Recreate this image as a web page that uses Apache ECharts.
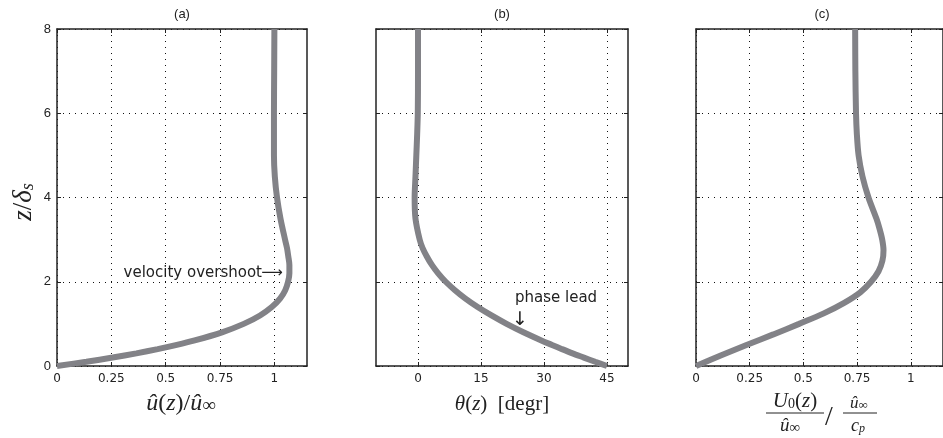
<!DOCTYPE html>
<html>
<head>
<meta charset="utf-8">
<title>Stokes layer profiles</title>
<script src="https://cdn.jsdelivr.net/npm/echarts@6/dist/echarts.min.js"></script>
<style>
    html, body { margin: 0; padding: 0; background: #fff; }
    #main { width: 943px; height: 438px; }
</style>
</head>
<body>
<div id="main"></div>
<script>
    // (a) amplitude of the oscillating velocity
    var zA = [0, 0.1, 0.2, 0.3, 0.4, 0.5, 0.6, 0.8, 1.0, 1.2, 1.4, 1.6, 1.8, 2.0, 2.2, 2.4, 2.6, 2.8, 3.0, 3.5, 4.0, 4.5, 5.0, 6.0, 7.0, 8.0];
    var uAmp = [0, 0.135, 0.256, 0.365, 0.463, 0.551, 0.629, 0.759, 0.859, 0.934, 0.988, 1.026, 1.050, 1.063, 1.069, 1.069, 1.064, 1.058, 1.049, 1.028, 1.012, 1.002, 0.998, 0.998, 0.999, 1.0];
    // (b) phase
    var zB = [0, 0.1, 0.2, 0.3, 0.4, 0.5, 0.6, 0.8, 1.0, 1.2, 1.4, 1.6, 1.8, 2.0, 2.2, 2.4, 2.6, 2.8, 3.0, 3.5, 4.0, 4.5, 5.0, 5.5, 6.0, 7.0, 8.0];
    var thetaDeg = [45, 42.2, 39.5, 36.8, 34.3, 31.9, 29.5, 25.1, 21.1, 17.5, 14.2, 11.3, 8.8, 6.6, 4.8, 3.3, 2.1, 1.1, 0.4, -0.6, -0.8, -0.6, -0.4, -0.2, -0.05, 0, 0];
    // (c) mean flow
    var zC = [0, 0.25, 0.5, 0.75, 1.0, 1.25, 1.5, 1.75, 2.0, 2.25, 2.5, 2.75, 3.0, 3.25, 3.5, 4.0, 4.5, 5.0, 5.5, 6.0, 7.0, 8.0];
    var uMean = [0, 0.115, 0.235, 0.36, 0.48, 0.595, 0.69, 0.765, 0.815, 0.85, 0.868, 0.873, 0.867, 0.855, 0.84, 0.803, 0.775, 0.757, 0.749, 0.745, 0.742, 0.741];

    var xTicksU = [0, 0.25, 0.5, 0.75, 1];
    var xTicksTheta = [0, 15, 30, 45];
    var yTicks = [0, 2, 4, 6, 8];

    var lineColor = '#828287';
    var ink = '#222';
    var dotted = { type: [1, 5], color: '#111', width: 1 };

    function pairs(xs, zs) {
        return zs.map(function (z, i) { return [xs[i], z]; });
    }

    function xAx(grid, min, max, ticks, pos) {
        var bottom = pos === 'bottom';
        return {
            type: 'value', gridIndex: grid, position: pos, min: min, max: max,
            axisLine: { show: true, onZero: false, lineStyle: { color: ink, width: 1.5 } },
            axisTick: { show: true, inside: true, length: 4, customValues: ticks, lineStyle: { color: ink } },
            axisLabel: { show: bottom, customValues: ticks, margin: 7, fontSize: 12, color: ink, fontFamily: 'DejaVu Sans' },
            splitLine: { show: bottom, lineStyle: dotted }
        };
    }

    function yAx(grid, pos, labels) {
        var left = pos === 'left';
        return {
            type: 'value', gridIndex: grid, position: pos, min: 0, max: 8,
            axisLine: { show: true, onZero: false, lineStyle: { color: ink, width: 1.5 } },
            axisTick: { show: true, inside: true, length: 4, customValues: yTicks, lineStyle: { color: ink } },
            axisLabel: { show: labels, customValues: yTicks, margin: 6, fontSize: 13, color: ink, fontFamily: 'Liberation Sans' },
            splitLine: { show: left, lineStyle: dotted }
        };
    }

    function curve(idx, data) {
        return {
            type: 'line', xAxisIndex: idx * 2, yAxisIndex: idx * 2, data: data,
            showSymbol: false, smooth: 0.3, silent: true,
            lineStyle: { color: lineColor, width: 6 }
        };
    }

    // rich styles for the math labels
    function mathFont(size) {
        var sub = Math.round(size * 0.68);
        return {
            i: { font: 'italic ' + size + 'px "Liberation Serif"', fill: ink },
            r: { font: size + 'px "Liberation Serif"', fill: ink },
            s: { font: 'italic ' + sub + 'px "Liberation Serif"', fill: ink, verticalAlign: 'bottom' },
            u: { font: sub + 'px "Liberation Serif"', fill: ink, verticalAlign: 'bottom' },
            w: { font: Math.round(size * 0.78) + 'px "Liberation Serif"', fill: ink, verticalAlign: 'bottom' }
        };
    }

    function label(x, y, text, opts) {
        opts = opts || {};
        return {
            type: 'text', x: x, y: y, rotation: opts.rotation || 0, silent: true,
            style: {
                text: text, rich: opts.rich, fill: ink,
                font: opts.font || '15px "DejaVu Sans"',
                align: opts.align || 'center',
                verticalAlign: 'middle'
            }
        };
    }
    function bar(x1, x2, y) {
        return { type: 'line', silent: true, shape: { x1: x1, y1: y, x2: x2, y2: y }, style: { stroke: ink, lineWidth: 1 } };
    }

    var chart = echarts.init(document.getElementById('main'));
    chart.setOption({
        animation: false,
        grid: [
            { left: 57, top: 29, width: 250, height: 337 },
            { left: 376, top: 29, width: 252, height: 337 },
            { left: 696, top: 29, width: 250, height: 337 }
        ],
        xAxis: [
            xAx(0, 0, 1.15, xTicksU, 'bottom'), xAx(0, 0, 1.15, xTicksU, 'top'),
            xAx(1, -10, 50, xTicksTheta, 'bottom'), xAx(1, -10, 50, xTicksTheta, 'top'),
            xAx(2, 0, 1.15, xTicksU, 'bottom'), xAx(2, 0, 1.15, xTicksU, 'top')
        ],
        yAxis: [
            yAx(0, 'left', true), yAx(0, 'right', false),
            yAx(1, 'left', false), yAx(1, 'right', false),
            yAx(2, 'left', false), yAx(2, 'right', false)
        ],
        series: [
            curve(0, pairs(uAmp, zA)),
            curve(1, pairs(thetaDeg, zB)),
            curve(2, pairs(uMean, zC))
        ],
        graphic: [
            label(182, 14, '(a)', { font: '13px "Liberation Sans"' }),
            label(502, 14, '(b)', { font: '13px "Liberation Sans"' }),
            label(822, 14, '(c)', { font: '13px "Liberation Sans"' }),
            label(24, 202, '{i|z}{r|/}{i|δ}{s|s}', { rich: mathFont(27), rotation: Math.PI / 2 }),
            label(181, 404, '{i|û}{r|(}{i|z}{r|)/}{i|û}{w|∞}', { rich: mathFont(24) }),
            label(502, 404, '{i|θ}{r|(}{i|z}{r|)  [degr]}', { rich: mathFont(21) }),
            label(795, 401, '{i|U}{u|0}{r|(}{i|z}{r|)}', { rich: mathFont(21) }),
            bar(766, 824, 413),
            label(790, 426, '{i|û}{w|∞}', { rich: mathFont(19) }),
            label(829, 418, '{r|/}', { rich: mathFont(28) }),
            label(859, 404, '{i|û}{w|∞}', { rich: mathFont(17) }),
            bar(843, 877, 413),
            label(858, 426, '{i|c}{s|p}', { rich: mathFont(18) }),
            label(262, 273, 'velocity overshoot', { align: 'right' }),
            label(272, 273, '⟶', { font: '15px "DejaVu Sans"' }),
            label(515, 298, 'phase lead', { align: 'left' }),
            label(520, 320, '↓', { font: '19px "DejaVu Sans"' })
        ]
    });
</script>
</body>
</html>
